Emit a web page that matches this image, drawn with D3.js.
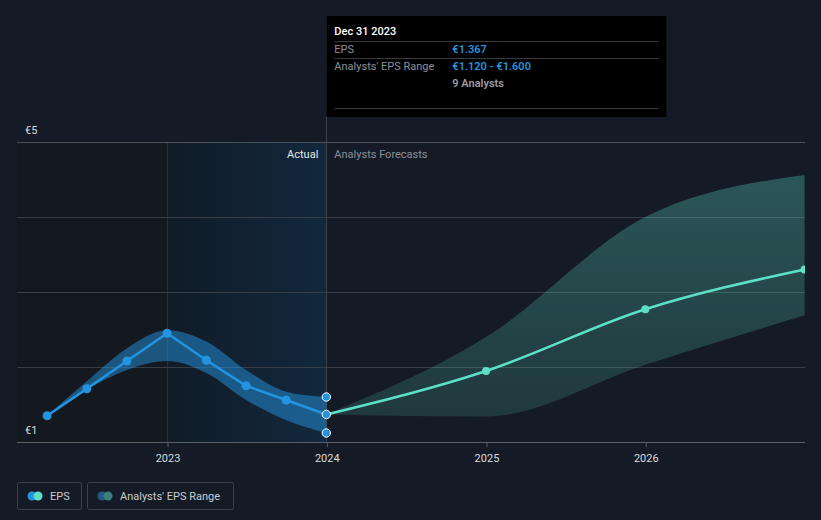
<!DOCTYPE html>
<html><head><meta charset="utf-8">
<script src="https://cdn.jsdelivr.net/npm/d3@7"></script>
<style>
html,body{margin:0;padding:0;background:#151b26;}
svg{display:block;font-family:Roboto,"Open Sans",sans-serif;}
</style></head>
<body>
<svg id="chart" width="821" height="520"></svg>
<script>
// ---- data ----
const actualDates = ["2022-03-31","2022-06-30","2022-09-30","2022-12-31","2023-03-31","2023-06-30","2023-09-30","2023-12-31"];
const actualEPS   = [1.35, 1.71, 2.08, 2.45, 2.09, 1.75, 1.56, 1.367];
const actualLow   = [1.35, 1.70, 1.96, 2.08, 1.92, 1.56, 1.29, 1.12];
const actualHigh  = [1.35, 1.81, 2.25, 2.49, 2.34, 1.96, 1.67, 1.60];
const forecastDates = ["2023-12-31","2024-12-31","2025-12-31","2026-12-31"];
const forecastEPS   = [1.367, 1.947, 2.77, 3.30];
const forecastLow   = [1.367, 1.34, 2.03, 2.69];
const forecastHigh  = [1.367, 2.40, 4.00, 4.56];
const yTicks = [1, 2, 3, 4, 5];
const yTickLabels = ["€1", "", "", "", "€5"];
const xTicks = ["2023-01-01","2024-01-01","2025-01-01","2026-01-01"];
const xTickLabels = ["2023","2024","2025","2026"];
const tooltipTitle = "Dec 31 2023";
const tooltipRows = [["EPS","€1.367"],["Analysts' EPS Range","€1.120 - €1.600"],["","9 Analysts"]];
const legendItems = ["EPS","Analysts' EPS Range"];

const C = {bg:"#151b26", eps:"#2394df", fc:"#5de0c8", grid:"#373c45", axis:"#5a5f68", text:"#d9dadc", muted:"#8a8f98"};
const svg = d3.select("#chart");
const L = 17, R = 805, T = 142, B = 442;
const x = d3.scaleUtc().domain([new Date(Date.UTC(2022,0,21)), new Date(Date.UTC(2027,0,1))]).range([L, R]);
const y = d3.scaleLinear().domain([1,5]).range([B, T]);
const P = s => new Date(s + "T00:00:00Z");

const defs = svg.append("defs");
const g1 = defs.append("linearGradient").attr("id","actGrad").attr("x1","0").attr("x2","1").attr("y1","0").attr("y2","0");
g1.append("stop").attr("offset","0").attr("stop-color","#111b27");
g1.append("stop").attr("offset","1").attr("stop-color","#12283d");
const g2 = defs.append("linearGradient").attr("id","fcGrad").attr("x1","0").attr("x2","0").attr("y1","0").attr("y2","1");
g2.append("stop").attr("offset","0").attr("stop-color",C.fc).attr("stop-opacity",0.3);
g2.append("stop").attr("offset","1").attr("stop-color",C.fc).attr("stop-opacity",0.15);
defs.append("clipPath").attr("id","clip").append("rect").attr("x",L).attr("y",0).attr("width",R-L).attr("height",B);

// background regions
const x2023 = x(P("2023-01-01")), xNow = x(P(actualDates[actualDates.length-1]));
svg.append("rect").attr("x",L).attr("y",T).attr("width",x2023-L).attr("height",B-T).attr("fill","#14181f");
svg.append("rect").attr("x",x2023).attr("y",T).attr("width",xNow-x2023).attr("height",B-T).attr("fill","url(#actGrad)");
svg.append("line").attr("x1",x2023).attr("x2",x2023).attr("y1",T).attr("y2",B).attr("stroke","#1c3349").attr("stroke-width",1);

// grid
svg.append("g").selectAll("line").data(yTicks).join("line")
  .attr("x1",L).attr("x2",R).attr("y1",d=>y(d)).attr("y2",d=>y(d))
  .attr("stroke",(d,i)=> d===1 ? C.axis : (d===5 ? "#4a4f58" : C.grid)).attr("stroke-width",1).attr("shape-rendering","crispEdges");

// x axis
const xa = svg.append("g").attr("transform",`translate(0,${B})`)
  .call(d3.axisBottom(x).tickValues(xTicks.map(P)).tickFormat((d,i)=>xTickLabels[i]).tickSize(5));
xa.select(".domain").remove();
xa.selectAll("line").attr("stroke",C.axis);
xa.selectAll("text").attr("fill",C.text).attr("font-size",11).attr("dy","1.05em").attr("font-family","Roboto");

// y labels
svg.append("g").selectAll("text").data(yTicks.filter((d,i)=>yTickLabels[i])).join("text")
  .attr("x",25).attr("y",d=>y(d)-8).attr("fill",C.text).attr("font-size",11)
  .text(d=>yTickLabels[yTicks.indexOf(d)]);

// crosshair
svg.append("line").attr("x1",xNow).attr("x2",xNow).attr("y1",16).attr("y2",B).attr("stroke","#3d434c").attr("stroke-width",1).attr("shape-rendering","crispEdges");

// Actual / Forecast labels
svg.append("text").attr("x",xNow-8).attr("y",158).attr("text-anchor","end").attr("fill","#e8e9ea").attr("font-size",11).text("Actual");
svg.append("text").attr("x",xNow+8).attr("y",158).attr("fill",C.muted).attr("font-size",11).text("Analysts Forecasts");

const plot = svg.append("g").attr("clip-path","url(#clip)");
const act = actualDates.map((d,i)=>({d:P(d), v:actualEPS[i], lo:actualLow[i], hi:actualHigh[i]}));
const fc = forecastDates.map((d,i)=>({d:P(d), v:forecastEPS[i], lo:forecastLow[i], hi:forecastHigh[i]}));

const area = d3.area().x(d=>x(d.d)).y0(d=>y(d.lo)).y1(d=>y(d.hi)).curve(d3.curveMonotoneX);
plot.append("path").datum(fc).attr("d",area).attr("fill","url(#fcGrad)");
plot.append("path").datum(act).attr("d",area).attr("fill",C.eps).attr("fill-opacity",0.5);

plot.append("path").datum(fc).attr("d",d3.line().x(d=>x(d.d)).y(d=>y(d.v)).curve(d3.curveMonotoneX))
  .attr("fill","none").attr("stroke",C.fc).attr("stroke-width",2.5);
plot.append("path").datum(act).attr("d",d3.line().x(d=>x(d.d)).y(d=>y(d.v)))
  .attr("fill","none").attr("stroke",C.eps).attr("stroke-width",2.5);

plot.append("g").selectAll("circle").data(fc.slice(1)).join("circle")
  .attr("cx",d=>x(d.d)).attr("cy",d=>y(d.v)).attr("r",4).attr("fill",C.fc);
plot.append("g").selectAll("circle").data(act.slice(0,-1)).join("circle")
  .attr("cx",d=>x(d.d)).attr("cy",d=>y(d.v)).attr("r",4.5).attr("fill",C.eps);
const last = act[act.length-1];
svg.append("g").selectAll("circle").data([last.hi,last.v,last.lo]).join("circle")
  .attr("cx",x(last.d)).attr("cy",d=>y(d)).attr("r",4.2).attr("fill",C.eps).attr("stroke","#fff").attr("stroke-width",1);

// tooltip
const tt = svg.append("g");
tt.append("rect").attr("x",xNow).attr("y",16).attr("width",340).attr("height",101).attr("fill","#000");
tt.append("text").attr("x",xNow+8).attr("y",35).attr("fill","#fff").attr("font-size",11).attr("font-weight",500).text(tooltipTitle);
[41,58,108].forEach(yy=>tt.append("line").attr("x1",xNow+8).attr("x2",xNow+332).attr("y1",yy+0.5).attr("y2",yy+0.5).attr("stroke","#3a3a3a"));
tooltipRows.forEach((r,i)=>{
  const yy = 53 + i*17;
  tt.append("text").attr("x",xNow+8).attr("y",yy).attr("fill","#8d9096").attr("font-size",11).text(r[0]);
  tt.append("text").attr("x",xNow+126).attr("y",yy).attr("fill", i<2 ? C.eps : "#9a9da3").attr("font-size",11).attr("font-weight",600).text(r[1]);
});

// legend
const lg = svg.append("g");
const lgDefs = [{x:17,w:64,c1:C.eps,c2:C.fc},{x:87,w:146,c1:"#1e5a88",c2:"#3b7f7c"}];
lgDefs.forEach((b,i)=>{
  lg.append("rect").attr("x",b.x+0.5).attr("y",482.5).attr("width",b.w).attr("height",27).attr("rx",2)
    .attr("fill","none").attr("stroke","#3b4049");
  lg.append("circle").attr("cx",b.x+15).attr("cy",496).attr("r",4.5).attr("fill",b.c1);
  lg.append("circle").attr("cx",b.x+21).attr("cy",496).attr("r",4.5).attr("fill",b.c2);
  lg.append("text").attr("x",b.x+33).attr("y",500).attr("fill","#c9cbce").attr("font-size",11).text(legendItems[i]);
});
</script>
</body></html>
